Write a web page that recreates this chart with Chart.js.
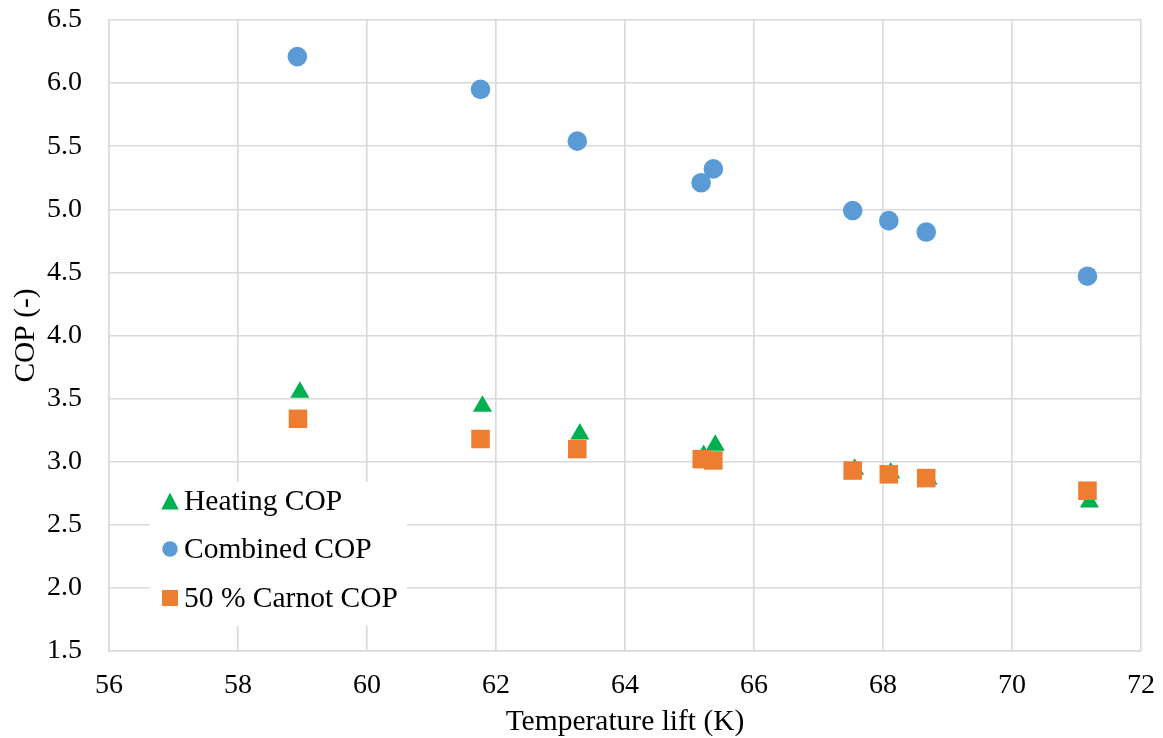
<!DOCTYPE html>
<html>
<head>
<meta charset="utf-8">
<title>COP vs temperature lift</title>
<script src="https://cdn.jsdelivr.net/npm/chart.js"></script>
<style>
  html, body { margin: 0; padding: 0; background: #fff; }
  #wrap { width: 1163px; height: 738px; }
</style>
</head>
<body>
<div id="wrap"><canvas id="cop-chart" width="1163" height="738"></canvas></div>
<script>
// temperature lift (K) and COP per series
const liftHeating = [58.96, 61.79, 63.30, 65.22, 65.40, 67.56, 68.12, 68.70, 71.20];
const copHeating = [3.55, 3.44, 3.22, 3.05, 3.13, 2.94, 2.91, 2.86, 2.68];

const liftCombined = [58.92, 61.76, 63.26, 65.18, 65.37, 67.53, 68.09, 68.67, 71.17];
const copCombined = [6.21, 5.95, 5.54, 5.21, 5.32, 4.99, 4.91, 4.82, 4.47];

const liftCarnot = [58.93, 61.76, 63.26, 65.19, 65.37, 67.53, 68.09, 68.67, 71.17];
const copCarnot = [3.34, 3.18, 3.10, 3.02, 3.01, 2.93, 2.90, 2.87, 2.77];

const seriesNames = ['Heating COP', 'Combined COP', '50 % Carnot COP'];

const xTicks = [56, 58, 60, 62, 64, 66, 68, 70, 72];
const yTicks = [1.5, 2.0, 2.5, 3.0, 3.5, 4.0, 4.5, 5.0, 5.5, 6.0, 6.5];

const COLORS = {
  heating: '#00b050',
  combined: '#5b9bd5',
  carnot: '#ed7d31',
  grid: '#d9d9d9',
  text: '#000000'
};

const FONT = "'Liberation Serif', 'Times New Roman', serif";
const TICK_SIZE = 28;
const LABEL_SIZE = 29.5;

function toPoints(xs, ys) {
  return xs.map((x, i) => ({ x: x, y: ys[i] }));
}

// legend box drawn inside the plot, lower left
const insideLegend = {
  id: 'insideLegend',
  afterDraw(chart) {
    const ctx = chart.ctx;
    const x = chart.scales.x;
    const y = chart.scales.y;
    const boxLeft = x.getPixelForValue(56.63);
    const boxRight = x.getPixelForValue(60.62);
    const boxTop = y.getPixelForValue(2.84);
    const boxBottom = y.getPixelForValue(1.70);

    ctx.save();
    ctx.fillStyle = '#ffffff';
    ctx.fillRect(boxLeft, boxTop, boxRight - boxLeft, boxBottom - boxTop);

    const rows = [501, 549, 598];
    const markX = 170;
    chart.data.datasets.forEach((ds, i) => {
      const cy = rows[i];
      ctx.fillStyle = ds.backgroundColor;
      ctx.beginPath();
      if (ds.pointStyle === 'triangle') {
        ctx.moveTo(markX, cy - 8.5);
        ctx.lineTo(markX + 8.7, cy + 8.5);
        ctx.lineTo(markX - 8.7, cy + 8.5);
        ctx.closePath();
      } else if (ds.pointStyle === 'circle') {
        ctx.arc(markX, cy, 7.7, 0, Math.PI * 2);
      } else {
        ctx.rect(markX - 8, cy - 8, 16, 16);
      }
      ctx.fill();

      ctx.fillStyle = COLORS.text;
      ctx.font = LABEL_SIZE + 'px ' + FONT;
      ctx.textAlign = 'left';
      ctx.textBaseline = 'middle';
      ctx.fillText(ds.label, 184, cy + 1);
    });
    ctx.restore();
  }
};

new Chart(document.getElementById('cop-chart'), {
  type: 'scatter',
  data: {
    datasets: [
      {
        label: seriesNames[0],
        data: toPoints(liftHeating, copHeating),
        pointStyle: 'triangle',
        pointRadius: 11,
        backgroundColor: COLORS.heating,
        borderColor: COLORS.heating,
        borderWidth: 0,
        order: 2
      },
      {
        label: seriesNames[1],
        data: toPoints(liftCombined, copCombined),
        pointStyle: 'circle',
        pointRadius: 9.8,
        backgroundColor: COLORS.combined,
        borderColor: COLORS.combined,
        borderWidth: 0,
        order: 1
      },
      {
        label: seriesNames[2],
        data: toPoints(liftCarnot, copCarnot),
        pointStyle: 'rect',
        pointRadius: 13.1,
        backgroundColor: COLORS.carnot,
        borderColor: COLORS.carnot,
        borderWidth: 0,
        order: 0
      }
    ]
  },
  options: {
    responsive: false,
    animation: false,
    devicePixelRatio: 1,
    layout: { padding: { top: 20, right: 22, left: 0, bottom: 0 } },
    plugins: {
      legend: { display: false },
      tooltip: { enabled: false }
    },
    scales: {
      x: {
        type: 'linear',
        min: xTicks[0],
        max: xTicks[xTicks.length - 1],
        afterBuildTicks: (axis) => { axis.ticks = xTicks.map(v => ({ value: v })); },
        afterFit: (axis) => {
          axis.height = 87;
          axis.paddingLeft = 0;
          axis.paddingRight = 0;
        },
        ticks: {
          color: COLORS.text,
          font: { family: FONT, size: TICK_SIZE },
          padding: 18,
          maxRotation: 0
        },
        grid: { color: COLORS.grid, lineWidth: 1.6, drawTicks: false },
        border: { color: COLORS.grid, width: 1.6 },
        title: {
          display: true,
          text: 'Temperature lift (K)',
          color: COLORS.text,
          font: { family: FONT, size: LABEL_SIZE },
          padding: { top: 0, bottom: -2 }
        }
      },
      y: {
        type: 'linear',
        min: yTicks[0],
        max: yTicks[yTicks.length - 1],
        afterBuildTicks: (axis) => { axis.ticks = yTicks.map(v => ({ value: v })); },
        afterFit: (axis) => {
          axis.width = 109;
          axis.paddingTop = 0;
          axis.paddingBottom = 0;
        },
        ticks: {
          color: COLORS.text,
          font: { family: FONT, size: TICK_SIZE },
          padding: 27,
          callback: (v) => Number(v).toFixed(1)
        },
        grid: { color: COLORS.grid, lineWidth: 1.6, drawTicks: false },
        border: { color: COLORS.grid, width: 1.6 },
        title: {
          display: true,
          text: 'COP (-)',
          color: COLORS.text,
          font: { family: FONT, size: LABEL_SIZE },
          padding: { top: 9, bottom: 0 }
        }
      }
    }
  },
  plugins: [insideLegend]
});
</script>
</body>
</html>
